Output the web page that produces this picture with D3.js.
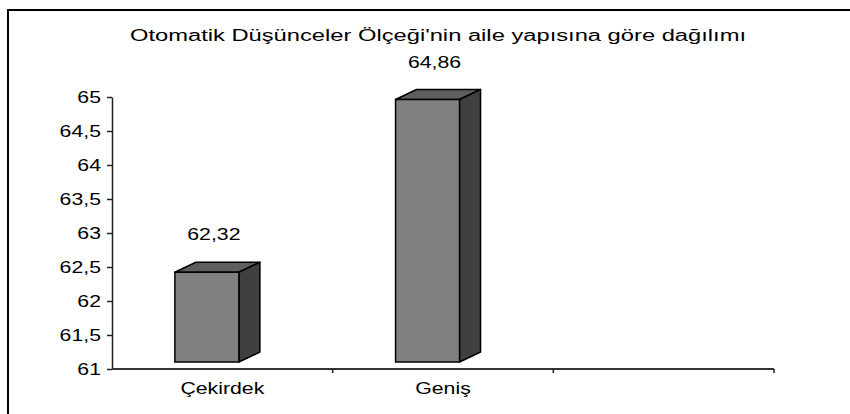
<!DOCTYPE html>
<html>
<head>
<meta charset="utf-8">
<script src="https://cdn.jsdelivr.net/npm/d3@7"></script>
<style>
  body { margin: 0; background: #fff; }
  text { font-family: "Liberation Sans", Arial, sans-serif; fill: #000; }
</style>
</head>
<body>
<div id="chart"></div>
<script>
var width = 850;
var height = 414;

// data
var title = "Otomatik Düşünceler Ölçeği'nin aile yapısına göre dağılımı";
var categories = ["Çekirdek", "Geniş", ""];
var values = [62.32, 64.86];
var yTicks = [61, 61.5, 62, 62.5, 63, 63.5, 64, 64.5, 65];

var tr = d3.formatLocale({ decimal: ",", thousands: ".", grouping: [3], currency: ["", ""] });
var tickFmt = tr.format("~g");
var valFmt = tr.format(".2f");

var svg = d3.select("#chart").append("svg")
    .attr("width", width)
    .attr("height", height);

// chart border (goes off the right / bottom edge)
svg.append("rect")
    .attr("x", 8).attr("y", 10)
    .attr("width", 900).attr("height", 500)
    .attr("fill", "none")
    .attr("stroke", "#000")
    .attr("stroke-width", 2);

var plot = { left: 112, right: 774, top: 97, bottom: 369 };
var sx = 1.33; // text is drawn a bit wider than normal

// stretched text helper
function wideText(g, x, y, str, anchor, size) {
    var t = g.append("g").attr("transform", "translate(" + x + "," + y + ") scale(" + sx + ",1)");
    t.append("text")
        .attr("text-anchor", anchor)
        .attr("font-size", size)
        .text(str);
    return t;
}

// title
svg.append("text")
    .attr("x", 438).attr("y", 41)
    .attr("text-anchor", "middle")
    .attr("font-size", 16)
    .attr("textLength", 616)
    .attr("lengthAdjust", "spacingAndGlyphs")
    .text(title);

var xScale = d3.scaleBand().domain(categories).range([plot.left, plot.right]).padding(0);
var yScale = d3.scaleLinear().domain([61, 65]).range([plot.bottom, plot.top]);

// y axis
var yAxis = d3.axisLeft(yScale).tickValues(yTicks).tickSize(5).tickSizeOuter(0).tickFormat(function () { return ""; });
var yAxisGroup = svg.append("g")
    .attr("transform", "translate(" + plot.left + ",0)")
    .call(yAxis);
yAxisGroup.select(".domain").attr("stroke", "#222").attr("stroke-width", 1.5);
yAxisGroup.selectAll(".tick line").attr("stroke", "#222").attr("stroke-width", 1.5);
yTicks.forEach(function (v) {
    wideText(svg, plot.left - 11, yScale(v) + 5.5, tickFmt(v), "end", 16);
});

// x axis line + ticks at category boundaries
var bw = xScale.bandwidth();
svg.append("line")
    .attr("x1", plot.left).attr("x2", plot.right)
    .attr("y1", yScale(61)).attr("y2", yScale(61))
    .attr("stroke", "#333").attr("stroke-width", 2);
svg.selectAll(".xtick")
    .data(categories)
    .enter().append("line")
    .attr("class", "xtick")
    .attr("x1", function (d) { return xScale(d) + bw; })
    .attr("x2", function (d) { return xScale(d) + bw; })
    .attr("y1", yScale(61)).attr("y2", yScale(61) + 4)
    .attr("stroke", "#222").attr("stroke-width", 1.5);
categories.forEach(function (c) {
    if (c) wideText(svg, xScale(c) + bw / 2, 394, c, "middle", 16);
});

// 3D-ish bars
var depthX = 21, depthY = 10, lift = 7;
var barOff = 0.285 * bw, barW = 0.29 * bw;
var bars = svg.append("g").classed("bars", true);
values.forEach(function (v, i) {
    var x0 = xScale(categories[i]) + barOff;
    var x1 = x0 + barW;
    var yt = yScale(v) - lift;
    var yb = yScale(61) - lift;
    var g = bars.append("g");
    // top
    g.append("path")
        .attr("d", "M" + x0 + "," + yt + "L" + (x0 + depthX) + "," + (yt - depthY) +
            "L" + (x1 + depthX) + "," + (yt - depthY) + "L" + x1 + "," + yt + "Z")
        .attr("fill", "#5e5e5e").attr("stroke", "#000").attr("stroke-width", 1.5).attr("stroke-linejoin", "round");
    // side
    g.append("path")
        .attr("d", "M" + x1 + "," + yt + "L" + (x1 + depthX) + "," + (yt - depthY) +
            "L" + (x1 + depthX) + "," + (yb - depthY) + "L" + x1 + "," + yb + "Z")
        .attr("fill", "#404040").attr("stroke", "#000").attr("stroke-width", 1.5).attr("stroke-linejoin", "round");
    // front
    g.append("rect")
        .attr("x", x0).attr("y", yt)
        .attr("width", barW).attr("height", yb - yt)
        .attr("fill", "#808080").attr("stroke", "#000").attr("stroke-width", 1.5);
    // value label
    wideText(svg, (x0 + x1) / 2 + 7, yt - depthY - 22, valFmt(v), "middle", 16);
});
</script>
</body>
</html>
